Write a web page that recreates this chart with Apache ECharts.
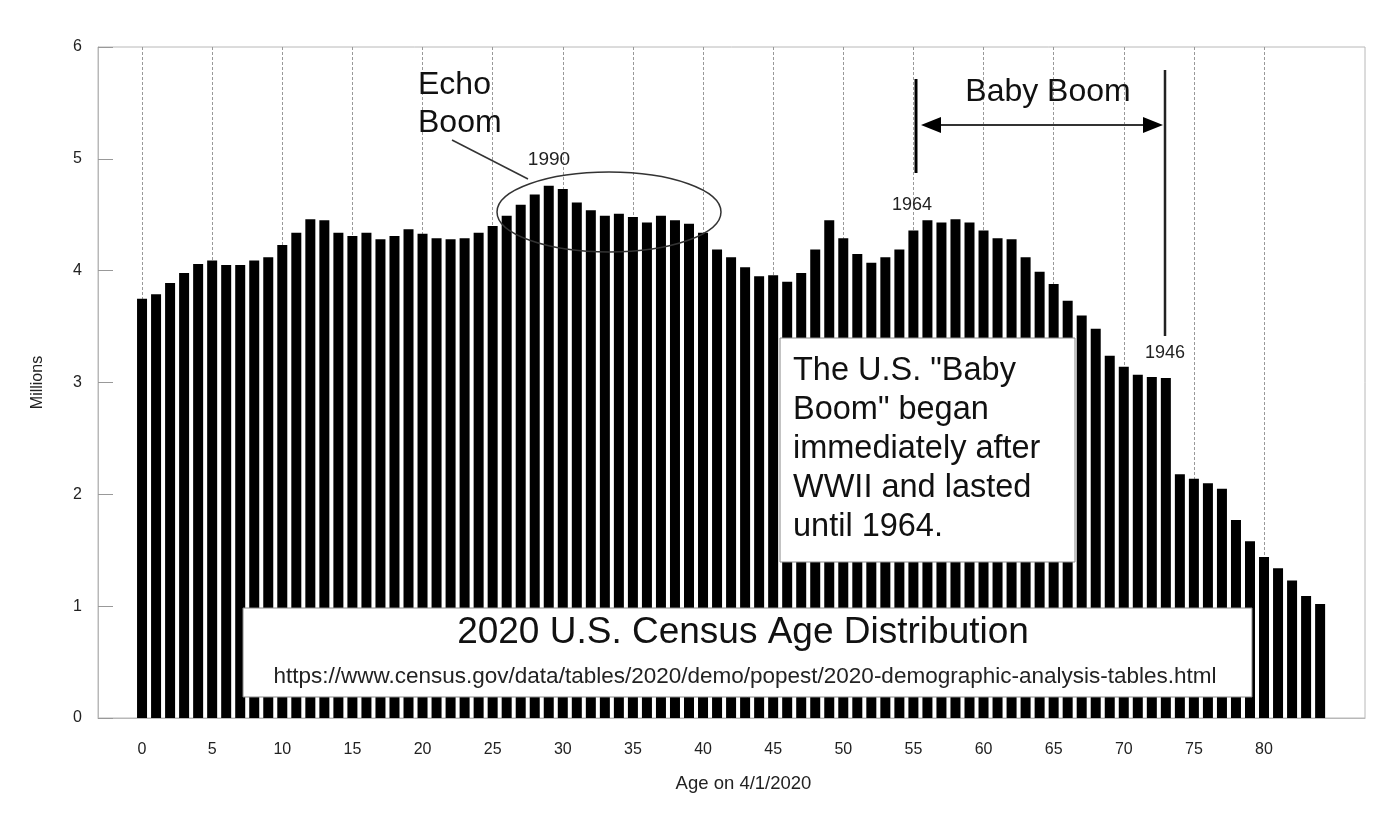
<!DOCTYPE html>
<html>
<head>
<meta charset="utf-8">
<title>2020 U.S. Census Age Distribution</title>
<script src="https://cdn.jsdelivr.net/npm/echarts@6/dist/echarts.min.js"></script>
<style>
    html, body { margin: 0; padding: 0; background: #fff; }
    #chart { width: 1400px; height: 818px; }
</style>
</head>
<body>
<div id="chart"></div>
<script>
// 年龄 0..84
var ages = [];
for (var a = 0; a <= 84; a++) ages.push(a);

// 人口（百万）
var population = [
    3.75, 3.79, 3.89, 3.98, 4.06, 4.09, 4.05, 4.05, 4.09, 4.12,
    4.23, 4.34, 4.46, 4.45, 4.34, 4.31, 4.34, 4.28, 4.31, 4.37,
    4.33, 4.29, 4.28, 4.29, 4.34, 4.40, 4.49, 4.59, 4.68, 4.76,
    4.73, 4.61, 4.54, 4.49, 4.51, 4.48, 4.43, 4.49, 4.45, 4.42,
    4.34, 4.19, 4.12, 4.03, 3.95, 3.96, 3.90, 3.98, 4.19, 4.45,
    4.29, 4.15, 4.07, 4.12, 4.19, 4.36, 4.45, 4.43, 4.46, 4.43,
    4.36, 4.29, 4.28, 4.12, 3.99, 3.88, 3.73, 3.60, 3.48, 3.24,
    3.14, 3.07, 3.05, 3.04, 2.18, 2.14, 2.10, 2.05, 1.77, 1.58,
    1.44, 1.34, 1.23, 1.09, 1.02
];

var xTicks = [0, 5, 10, 15, 20, 25, 30, 35, 40, 45, 50, 55, 60, 65, 70, 75, 80];
var yTicks = [0, 1, 2, 3, 4, 5, 6];

var font = "'Liberation Sans', Arial, sans-serif";

var barData = ages.map(function (age, i) { return [age, population[i]]; });

var option = {
    backgroundColor: '#fff',
    animation: false,
    textStyle: { fontFamily: font },
    grid: {
        left: 98, right: 35, top: 47, bottom: 100,
        show: true, borderColor: '#b8b8b8', borderWidth: 1, backgroundColor: '#fff'
    },
    xAxis: {
        type: 'value',
        min: -3.14,
        max: 87.2,
        name: 'Age on 4/1/2020',
        nameLocation: 'middle',
        nameGap: 56,
        nameTextStyle: { fontSize: 18.5, color: '#222', fontFamily: font, padding: [0, 0, 0, 24] },
        axisLine: { show: true, onZero: false, lineStyle: { color: '#b8b8b8' } },
        axisTick: { show: false, customValues: xTicks },
        axisLabel: { customValues: xTicks, fontSize: 16, color: '#222', margin: 24, fontFamily: font },
        splitLine: { show: true, lineStyle: { color: '#999', type: [3, 2], width: 1 } }
    },
    yAxis: {
        type: 'value',
        min: 0,
        max: 6,
        interval: 1,
        name: 'Millions',
        nameLocation: 'middle',
        nameRotate: 90,
        nameGap: 52,
        nameTextStyle: { fontSize: 16, color: '#222', fontFamily: font },
        axisLine: { show: true, onZero: false, lineStyle: { color: '#b8b8b8' } },
        axisTick: { show: true, inside: true, length: 15, lineStyle: { color: '#999' } },
        axisLabel: {
            fontSize: 16, color: '#222', margin: 16, fontFamily: font,
            formatter: function (v) { return yTicks.indexOf(v) >= 0 ? String(v) : ''; }
        },
        splitLine: { show: false }
    },
    series: [{
        name: 'Population',
        type: 'bar',
        barWidth: 10,
        itemStyle: { color: '#000' },
        data: barData
    }],
    graphic: {
        elements: [
            // Echo Boom 注释
            { type: 'text', z: 100, x: 418, y: 104, style: { text: 'Echo\nBoom', fontSize: 32, lineHeight: 38, fontFamily: font, fill: '#111', textAlign: 'left', textVerticalAlign: 'middle' } },
            { type: 'line', z: 100, shape: { x1: 452, y1: 140, x2: 528, y2: 179 }, style: { stroke: '#333', lineWidth: 1.5 } },
            { type: 'ellipse', z: 100, shape: { cx: 609, cy: 212, rx: 112, ry: 40 }, style: { stroke: '#333', fill: null, lineWidth: 1.5 } },
            { type: 'text', z: 100, x: 549, y: 160, style: { text: '1990', fontSize: 19, fontFamily: font, fill: '#222', textAlign: 'center', textVerticalAlign: 'middle' } },
            // Baby Boom 注释
            { type: 'text', z: 100, x: 1048, y: 92, style: { text: 'Baby Boom', fontSize: 32, fontFamily: font, fill: '#111', textAlign: 'center', textVerticalAlign: 'middle' } },
            { type: 'line', z: 100, shape: { x1: 916, y1: 79, x2: 916, y2: 173 }, style: { stroke: '#000', lineWidth: 3 } },
            { type: 'line', z: 100, shape: { x1: 1165, y1: 70, x2: 1165, y2: 336 }, style: { stroke: '#222', lineWidth: 2.5 } },
            { type: 'line', z: 100, shape: { x1: 935, y1: 125, x2: 1150, y2: 125 }, style: { stroke: '#333', lineWidth: 2 } },
            { type: 'polygon', z: 100, shape: { points: [[921, 125], [941, 117], [941, 133]] }, style: { fill: '#000' } },
            { type: 'polygon', z: 100, shape: { points: [[1163, 125], [1143, 117], [1143, 133]] }, style: { fill: '#000' } },
            { type: 'text', z: 100, x: 912, y: 205, style: { text: '1964', fontSize: 18, fontFamily: font, fill: '#222', textAlign: 'center', textVerticalAlign: 'middle' } },
            { type: 'text', z: 100, x: 1165, y: 353, style: { text: '1946', fontSize: 18, fontFamily: font, fill: '#222', textAlign: 'center', textVerticalAlign: 'middle' } },
            // 说明框
            { type: 'rect', z: 100, shape: { x: 780, y: 338, width: 295, height: 224 }, style: { fill: '#fff', stroke: '#888', lineWidth: 1 } },
            { type: 'text', z: 101, x: 793, y: 449, style: { text: 'The U.S. "Baby\nBoom" began\nimmediately after\nWWII and lasted\nuntil 1964.', fontSize: 32.5, lineHeight: 39, fontFamily: font, fill: '#111', textAlign: 'left', textVerticalAlign: 'middle' } },
            // 标题框
            { type: 'rect', z: 100, shape: { x: 243, y: 608, width: 1009, height: 89 }, style: { fill: '#fff', stroke: '#888', lineWidth: 1 } },
            { type: 'text', z: 101, x: 743, y: 633, style: { text: '2020 U.S. Census Age Distribution', fontSize: 37, fontFamily: font, fill: '#111', textAlign: 'center', textVerticalAlign: 'middle' } },
            { type: 'text', z: 101, x: 745, y: 677, style: { text: 'https://www.census.gov/data/tables/2020/demo/popest/2020-demographic-analysis-tables.html', fontSize: 22.5, fontFamily: font, fill: '#222', textAlign: 'center', textVerticalAlign: 'middle' } }
        ]
    }
};

var myChart = echarts.init(document.getElementById('chart'));
myChart.setOption(option, true);
</script>
</body>
</html>
